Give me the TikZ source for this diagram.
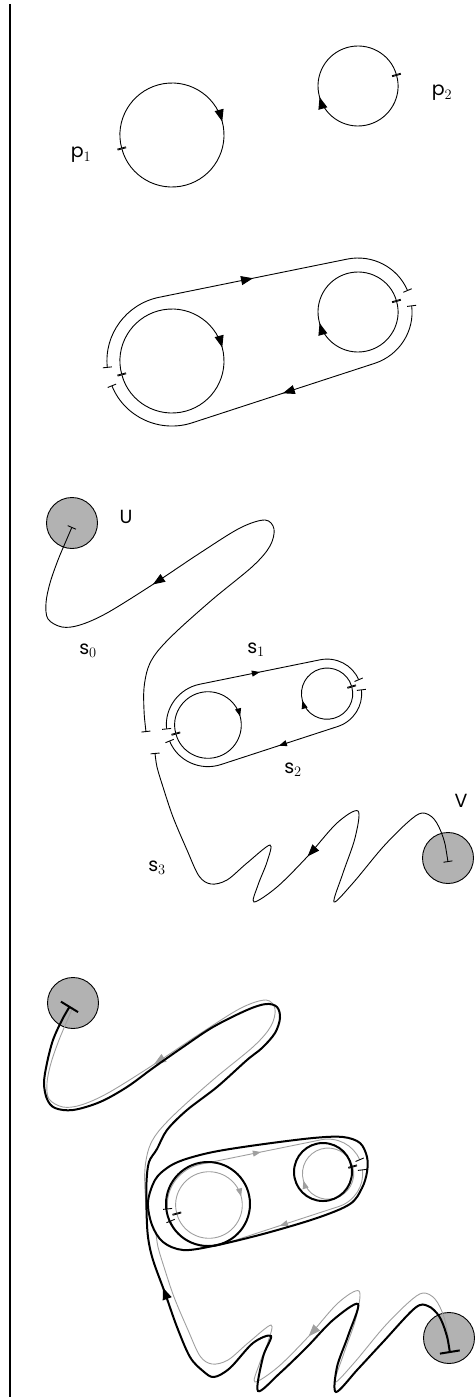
\documentclass[tikz,border=0pt]{standalone}
\usepackage{fontspec}
\usepackage{tikz}
\usetikzlibrary{arrows.meta, decorations.markings}
\newfontfamily\lblfont{Poppins}

\tikzset{
  bigtip/.tip={Triangle[length=12pt, width=9pt]},
  smalltip/.tip={Triangle[length=8pt, width=6pt]},
  ticks/.style={{Bar[width=9pt, color=black]}-{Bar[width=9pt, color=black]}},
  endbars/.style={{Bar[width=9pt]}-{Bar[width=9pt]}},
  midarr/.style 2 args={postaction={decorate},
    decoration={markings, mark=at position #1 with {\arrow{#2}}}},
  % loop with its base point: radius, base angle, tip
  pics/orbit/.style n args={3}{code={
    \draw[ticks, midarr={0.5}{#3}] (#2:#1) arc[start angle=#2, delta angle=360, radius=#1];
  }},
  % both loops, s1 over the top and s2 underneath
  pics/stadium/.style={code={
    \pic {orbit={52}{165}{#1}};
    \pic at (186,-49) {orbit={40}{-16}{#1}};
    \draw[ticks, midarr={0.53}{#1}] (174:65) arc[start angle=174, end angle=258.5, radius=65]
      -- (175.2,-101.9) arc[start angle=258.5, end angle=337, radius=54];
    \draw[ticks, midarr={0.47}{#1}] (239.6,-55.6) arc[start angle=353, end angle=431.9, radius=54]
      -- (20.2,61.8) arc[start angle=71.9, end angle=158, radius=65];
  }},
  pics/scene/.style={code={
    \pic[shift={(208pt,-725pt)}, x=0.64pt, y=-0.64pt] {stadium=smalltip};
    % s0
    \draw[endbars, midarr={0.65}{bigtip}] plot[smooth, tension=0.55] coordinates {
      (146,732) (144,710) (144,688) (148,668) (157,652) (177,631) (213,599) (253,566)
      (270,546) (274,529) (265,520) (240,528) (200,553) (152,585) (107,613) (80,625)
      (62,627) (48,619) (46,603) (50,583) (58,560) (66,541) (72,527)};
    % s3
    \draw[endbars, midarr={0.5}{bigtip}] plot[smooth, tension=0.55] coordinates {
      (448,862) (443,837) (434,819) (422,813) (408,822) (383,847) (353,883) (334,902)
      (343,873) (355,838) (358,811) (337,823) (307,857) (277,887) (254,902) (258,885)
      (267,862) (270,845) (247,863) (227,880) (211,884) (199,876) (187,850) (173,817)
      (163,787) (157,767) (155,753)};
  }}
}

\begin{document}
\begin{tikzpicture}[x=1pt, y=-1pt, line width=0.9pt,
  disc/.style={circle, draw, fill=gray!60, minimum size=51pt, inner sep=0pt},
  lbl/.style={font=\fontsize{19}{22}\selectfont\lblfont, inner sep=0pt},
  thickline/.style={line width=2pt},
  faint/.style={color=gray!75}]
\useasboundingbox (0,0) rectangle (474,1397);
\draw[line width=2.6pt] (10,4) -- (10,1397);

% the two loops
\pic at (172,135) {orbit={52}{165}{bigtip}};
\pic at (358,86) {orbit={40}{-16}{bigtip}};
\node[lbl] (p1lbl) at (81,155) {p$_1$};
\node[lbl] (p2lbl) at (442,93) {p$_2$};

% joined
\pic at (172,361) {stadium=bigtip};

% lasso from U to V
\node[disc] (u) at (72,523) {};
\node[disc] (v) at (448,858) {};
\pic {scene};
\node[lbl] (ulbl) at (126,517) {U};
\node[lbl] (vlbl) at (461,801) {V};
\node[lbl] (s0lbl) at (88,651) {s$_0$};
\node[lbl] (s1lbl) at (256,650) {s$_1$};
\node[lbl] (s2lbl) at (293,770) {s$_2$};
\node[lbl] (s3lbl) at (157,868) {s$_3$};

% the same, with the deformed path on top
\node[disc] (u2) at (73,1003) {};
\node[disc] (v2) at (449,1338) {};
\pic[shift={(1,480)}, faint, endbars/.style={}] {scene};
\draw[thickline, {Bar[width=20pt]}-{Bar[width=20pt]}, midarr={0.48}{bigtip}]
  plot[smooth, tension=0.55] coordinates {
  (450,1353) (446,1333) (439,1316) (428,1306) (415,1308) (383,1342) (358,1369) (336,1392)
  (337,1367) (348,1336) (358,1304) (333,1320) (307,1347) (280,1373) (258,1391) (263,1357)
  (271,1336) (253,1343) (230,1368) (214,1377) (203,1371) (190,1357) (177,1327) (165,1293)
  (153,1260) (148,1237) (146.5,1210) (146.5,1182) (149,1162) (157,1149) (167,1130) (187,1110)
  (217,1087) (247,1060) (262,1048) (275,1033) (280,1018) (277,1007) (266,1004) (247,1010)
  (213,1027) (183,1047) (153,1068) (127,1087) (100,1102) (73,1110) (55,1108) (47,1099)
  (44,1083) (47,1063) (53,1040) (62,1020) (70,1006)};
\draw[thickline] plot[smooth cycle, tension=0.55] coordinates {
  (148,1202) (155,1180) (167,1168) (183,1160) (213,1152) (257,1145) (313,1138) (343,1137)
  (360,1143) (367,1157) (367,1172) (362,1188) (350,1204) (317,1218) (263,1234) (213,1246)
  (183,1250) (163,1242) (152,1225)};
\draw[thickline] (208,1204) circle[radius=42];
\draw[thickline] (323,1172) circle[radius=29];
\end{tikzpicture}
\end{document}
